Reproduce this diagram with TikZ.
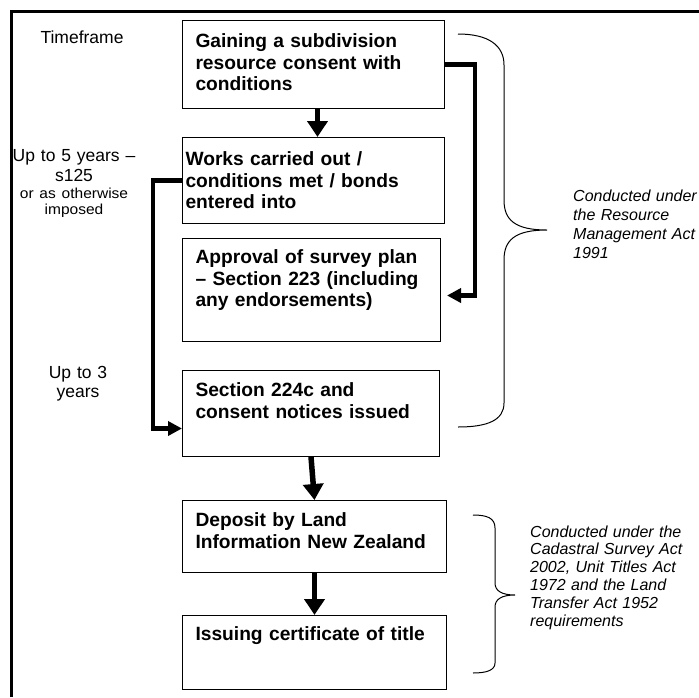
\documentclass[tikz,border=0pt]{standalone}
\usepackage{fontspec}
\setmainfont{Liberation Sans}
\newfontfamily\widesans[FakeStretch=1.07]{Liberation Sans}
\usetikzlibrary{arrows.meta}

\newcommand{\stagefont}{\fontsize{19.2}{21.7}\selectfont\bfseries}
\newcommand{\notefont}{\fontsize{16}{19}\selectfont\itshape}
\newcommand{\spanfont}{\fontsize{17.5}{20}\selectfont}
\newcommand{\smallspanfont}{\widesans\fontsize{14.5}{15}\selectfont}

\tikzset{
  stage/.style={draw, line width=1pt, anchor=north west, align=left,
    inner xsep=13pt, inner ysep=0pt, font=\stagefont},
  flow/.style={line width=5.5pt, -{Triangle[length=16pt,width=20pt]}},
  link/.style={line width=4.5pt, -{Triangle[length=14pt,width=14pt]}},
  brace/.style={line width=1pt},
  note/.style={anchor=base west, align=left, inner sep=0pt, font=\notefont},
  span/.style={anchor=base, align=center, inner sep=0pt, font=\spanfont}
}

\begin{document}
\begin{tikzpicture}[x=1pt, y=-1pt]
\useasboundingbox (0,0) rectangle (699,697);

% frame
\draw[line width=3pt] (11,697) |- (699,11);

% timeframe column
\node[span, text width=120pt] (timeframe) at (82,43) {Timeframe};
\node[span, text width=135pt] (fiveyears) at (74,161)
  {Up to 5 years --\\s125\\[-3pt]{\smallspanfont or as otherwise}\\[-4pt]{\smallspanfont imposed}};
\node[span, text width=100pt] (threeyears) at (78,378) {Up to 3\\[-1pt]years};

% stages
\node[stage, text width=236pt, text height=27pt, text depth=61pt] (gain) at (182,20)
  {Gaining a subdivision\\resource consent with\\conditions};
\node[stage, inner xsep=3pt, text width=256pt, text height=28pt, text depth=58pt] (works) at (182,137)
  {Works carried out /\\conditions met / bonds\\entered into};
\node[stage, text width=232pt, text height=25pt, text depth=78pt] (approval) at (182,238)
  {Approval of survey plan\\-- Section 223 (including\\any endorsements)};
\node[stage, text width=231pt, text height=26pt, text depth=60pt] (notices) at (182,370)
  {Section 224c and\\consent notices issued};
\node[stage, text width=238pt, text height=26pt, text depth=46pt] (deposit) at (182,500)
  {Deposit by Land\\Information New Zealand};
\node[stage, text width=238pt, text height=25pt, text depth=49pt] (issue) at (182,615)
  {Issuing certificate of title};

% arrows
\draw[flow] ([xshift=4pt]gain.south) -- ([xshift=4pt]works.north);
\draw[link, shorten >=6pt] (gain.east) -- ++(30,0) |- ([yshift=-5.5pt]approval.east);
\draw[link] (works.west) -- ++(-29,0) |- ([yshift=-15pt]notices.west);
\draw[flow] (notices.south) -- (deposit.north);
\draw[flow] (deposit.south) -- (issue.north);

% braces and acts
\draw[brace] (458,34) .. controls (488,34) and (504,45) .. (504,65) -- (504,200)
  .. controls (504,220) and (515,230) .. (547,230)
  .. controls (515,230) and (504,240) .. (504,260) -- (504,403)
  .. controls (504,420) and (488,427) .. (458,427);
\draw[brace] (473,515) .. controls (487,515) and (495,518) .. (495,528) -- (495,583)
  .. controls (495,591) and (502,595) .. (515,595)
  .. controls (502,595) and (495,599) .. (495,607) -- (495,663)
  .. controls (495,670) and (487,673) .. (473,673);

\node[note, text width=130pt] (rma) at (573,201)
  {Conducted under\\the Resource\\Management Act\\1991};
\node[note, text width=165pt, font=\fontsize{16}{17.8}\selectfont\itshape] (cadastral) at (530,537)
  {Conducted under the\\Cadastral Survey Act\\2002, Unit Titles Act\\1972 and the Land\\Transfer Act 1952\\requirements};
\end{tikzpicture}
\end{document}
